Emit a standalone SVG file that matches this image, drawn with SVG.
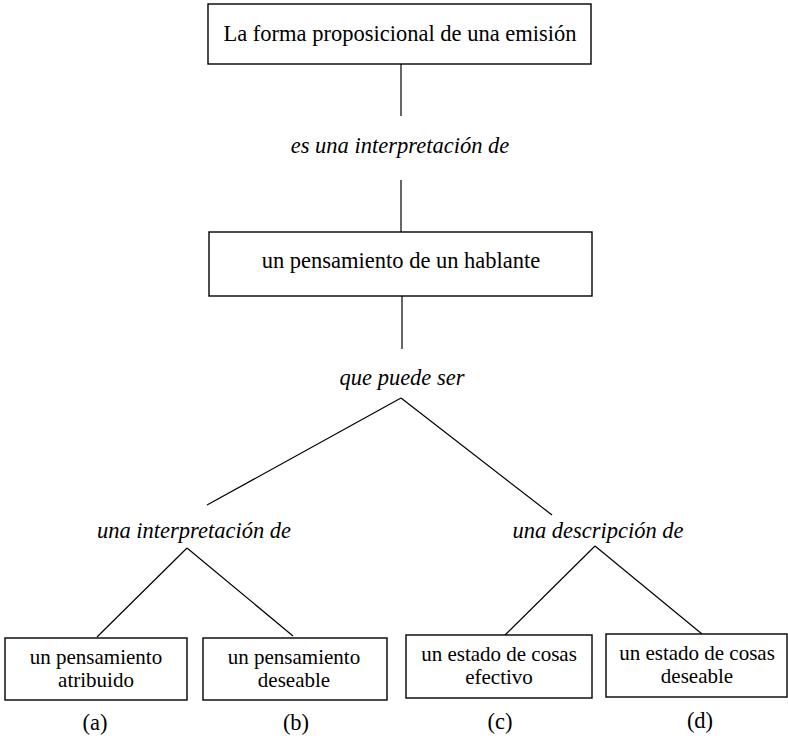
<svg xmlns="http://www.w3.org/2000/svg" width="788" height="742" viewBox="0 0 788 742">
<style>
.box{fill:#fff;stroke:#000;stroke-width:1.4}
.t{font-size:22.5px;fill:#000;text-anchor:middle}
.s{font-size:21px}
.i{font-style:italic}
.c line{stroke:#000;stroke-width:1.2}
</style>
<rect width="788" height="742" fill="#fff"/>
<g class="c" id="connectors">
<line x1="401" y1="64" x2="401" y2="116"/>
<line x1="401" y1="180" x2="401" y2="232"/>
<line x1="402" y1="296" x2="402" y2="349"/>
<line x1="401" y1="398" x2="207" y2="505"/>
<line x1="401" y1="398" x2="552" y2="515"/>
<line x1="187" y1="548" x2="97" y2="637"/>
<line x1="187" y1="548" x2="293" y2="636"/>
<line x1="595" y1="546" x2="505" y2="635"/>
<line x1="595" y1="546" x2="702" y2="634"/>
</g>
<g font-family="Liberation Serif, Times New Roman, serif">
<g id="label-es">
<text class="t i" x="400" y="153">es una interpretación de</text>
</g>
<g id="label-que">
<text class="t i" x="402" y="385">que puede ser</text>
</g>
<g id="label-interp">
<text class="t i" x="194" y="538">una interpretación de</text>
</g>
<g id="label-desc">
<text class="t i" x="598" y="538">una descripción de</text>
</g>
<g id="node-forma">
<rect class="box" x="208" y="4" width="383" height="60"/>
<text class="t" x="400" y="41">La forma proposicional de una emisión</text>
</g>
<g id="node-pensamiento">
<rect class="box" x="209" y="232" width="383" height="64"/>
<text class="t" x="401" y="268">un pensamiento de un hablante</text>
</g>
<g id="node-a">
<rect class="box" x="5" y="638" width="182" height="62"/>
<text class="t s" x="96" y="664">un pensamiento<tspan x="96" dy="23">atribuido</tspan></text>
</g>
<g id="node-b">
<rect class="box" x="203" y="638" width="184" height="62"/>
<text class="t s" x="294" y="664">un pensamiento<tspan x="294" dy="23">deseable</tspan></text>
</g>
<g id="node-c">
<rect class="box" x="406" y="635" width="186" height="63"/>
<text class="t s" x="499" y="661">un estado de cosas<tspan x="499" dy="23">efectivo</tspan></text>
</g>
<g id="node-d">
<rect class="box" x="606" y="634" width="181" height="63"/>
<text class="t s" x="697" y="660">un estado de cosas<tspan x="697" dy="23">deseable</tspan></text>
</g>
<g id="letters">
<text class="t" x="95" y="730">(a)</text>
<text class="t" x="296" y="730">(b)</text>
<text class="t" x="500" y="729">(c)</text>
<text class="t" x="700" y="728">(d)</text>
</g>
</g>
</svg>
